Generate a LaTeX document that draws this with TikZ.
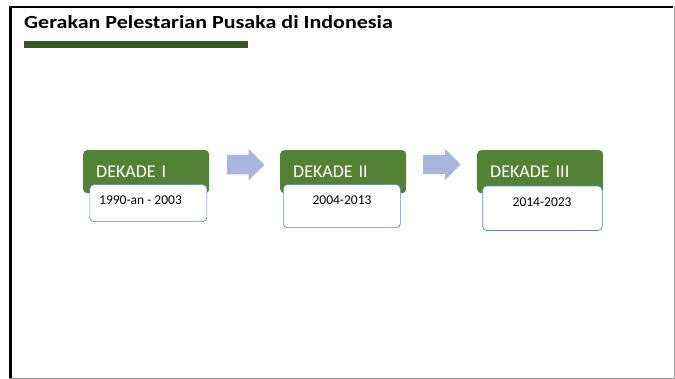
\documentclass[tikz,border=0pt]{standalone}
\usepackage{fontspec}
\setmainfont{Carlito}
\usetikzlibrary{shapes,arrows,positioning}
\definecolor{dekgreen}{HTML}{548235}
\definecolor{bargreen}{HTML}{375623}
\definecolor{panahblue}{HTML}{A9B6DD}
\definecolor{boxblue}{HTML}{5B87D5}
\newcommand{\judul}[1]{\scalebox{1.19}[1]{\fontsize{18.5}{21}\selectfont\bfseries #1}}
\tikzset{
  dekade/.style={rectangle, rounded corners=4pt, fill=dekgreen, text=white,
    anchor=north west, inner xsep=13pt, minimum height=43pt, align=left,
    font=\fontsize{18}{21}\selectfont},
  periode/.style={rectangle, rounded corners=4pt, draw=boxblue, line width=0.7pt,
    fill=white, anchor=north west, inner sep=0pt},
  tahun/.style={font=\fontsize{13.5}{15}\selectfont, inner sep=0pt},
  panah/.style={single arrow, fill=panahblue, inner xsep=0pt, inner ysep=9.5pt,
    single arrow head extend=6pt, single arrow head indent=0pt,
    minimum height=37.5pt, shape border rotate=0, anchor=tail}
}

\begin{document}
\begin{tikzpicture}[x=1pt,y=-1pt]
\useasboundingbox (0,0) rectangle (675,379);

% bingkai slide
\draw[black, line width=2pt] (10,7) -- (673,7);
\draw[black, line width=3pt] (10.5,6) -- (10.5,379);
\draw[gray!70, line width=1pt] (674,6) -- (674,379);
\draw[gray!80, line width=1.2pt] (9,378.4) -- (674,378.4);

\node[anchor=base west, inner sep=0pt] (judul) at (24,28.3)
  {\judul{Gerakan Pelestarian Pusaka di Indonesia}};
\fill[bargreen] (24,41) rectangle (248,48);

% kotak dekade
\node[dekade, text width=100pt] (d1) at (83,150) {DEKADE I};
\node[dekade, text width=100pt] (d2) at (280,150) {DEKADE II};
\node[dekade, text width=100pt] (d3) at (477,150) {DEKADE III};

% kotak periode
\node[periode, minimum width=117pt, minimum height=37pt] (p1) at (89.5,184.3) {};
\node[periode, minimum width=117pt, minimum height=43pt] (p2) at (283,184.3) {};
\node[periode, minimum width=119.5pt, minimum height=44.5pt] (p3) at (482.3,185.7) {};

\node[tahun, anchor=base west] (t1) at ([xshift=9.5pt,yshift=-20pt]p1.north west) {1990-an - 2003};
\node[tahun, anchor=base] (t2) at ([xshift=0.2pt,yshift=-20.7pt]p2.north) {2004-2013};
\node[tahun, anchor=base] (t3) at ([xshift=-0.3pt,yshift=-21pt]p3.north) {2014-2023};

% panah antar dekade
\node[panah] (a1) at (226.7,164.7) {};
\node[panah] (a2) at (423,164.5) {};
\end{tikzpicture}
\end{document}
